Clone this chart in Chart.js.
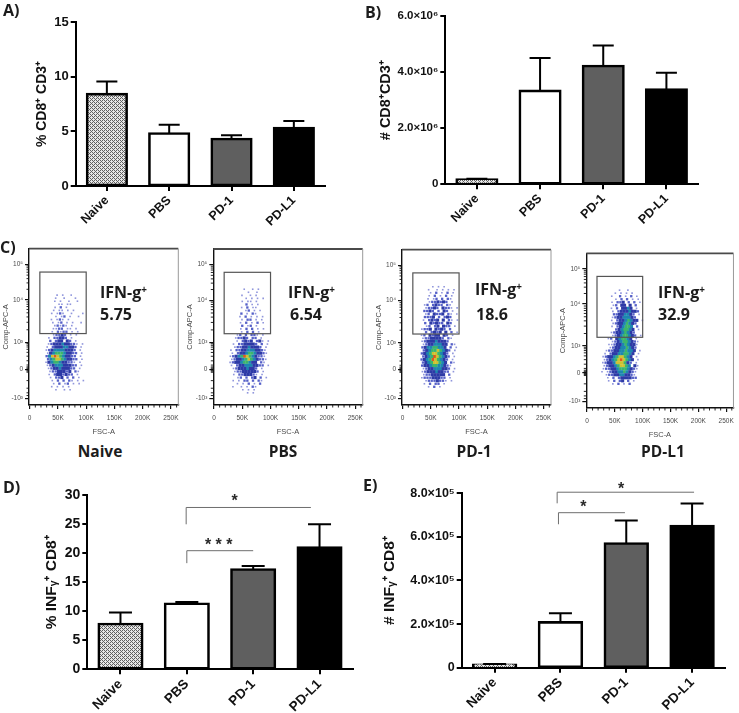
<!DOCTYPE html>
<html><head><meta charset="utf-8">
<script src="https://cdn.jsdelivr.net/npm/chart.js@4"></script>
<style>
html,body{margin:0;padding:0;background:#fff}
#fig{position:relative;width:739px;height:713px;overflow:hidden;background:#fff;filter:blur(0.35px)}
canvas{position:absolute;display:block}
.t{position:absolute;font-family:"Open Sans",sans-serif;font-weight:700;color:#1c1c1c;white-space:nowrap;line-height:1;transform:translateY(-50%)}
.t sup{font-size:.62em;line-height:0;vertical-align:.55em}
.c{transform:translate(-50%,-50%)}
</style></head><body><div id="fig"></div>
<script>
/* ---------- data ---------- */
const categories = ['Naive','PBS','PD-1','PD-L1'];

const aValues = [8.4,4.8,4.3,5.3];
const aUpper  = [9.55,5.6,4.65,5.95];
const aTicks  = [0,5,10,15];
const aTickLabels = ['0','5','10','15'];

const bValues = [0.17e6,3.33e6,4.22e6,3.38e6];
const bUpper  = [0.2e6,4.5e6,4.95e6,3.98e6];
const bTicks  = [0,2e6,4e6,6e6];
const bTickLabels = ['0','2.0×10⁶','4.0×10⁶','6.0×10⁶'];

const dValues = [7.8,11.3,17.2,21];
const dUpper  = [9.8,11.6,17.8,25];
const dTicks  = [0,5,10,15,20,25,30];
const dTickLabels = ['0','5','10','15','20','25','30'];
const dBrackets = [[0.99,2.87,27.9,25.0,1.72,29.5,'*'],[1.0,2.0,20.45,18.3,1.48,21.8,'* * *']];

const eValues = [0.13e5,2.08e5,5.7e5,6.5e5];
const eUpper  = [0.17e5,2.5e5,6.75e5,7.53e5];
const eTicks  = [0,2e5,4e5,6e5,8e5];
const eTickLabels = ['0','2.0×10⁵','4.0×10⁵','6.0×10⁵','8.0×10⁵'];
const eBrackets = [[0.95,3.03,8.05e5,7.54e5,1.92,8.3e5,'*'],[0.97,1.98,7.11e5,6.58e5,1.35,7.46e5,'*']];

/* flow plots: FSC-A in K, Comp-APC-A in display channels */
const fscTicks = [0,50,100,150,200,250];
const fscTickLabels = ['0','50K','100K','150K','200K','250K'];
const fscMinor = [10,20,30,40,60,70,80,90,110,120,130,140,160,170,180,190,210,220,230,240,260];
const apcTicks = [44,233,410,688,922];
const apcTickLabels = ['-10³','0','10³','10⁴','10⁵'];
const apcMinor = [62,80,110,160,215,222,228,237,243,250,262,290,320,345,365,380,392,402,493,542,577,604,626,645,660,675,758,800,828,851,870,886,899,911];
const gateBox = [18,100,468,871];
const flowPercents = ['5.75','6.54','18.6','32.9'];
const rowShift = [0,2.5,1,3.5,1.5,4,0.5,3];

/* density class per cell, each row 20 channels lower, each column 5K wider */
const naiveTop = 720;
const naiveRows = [
"      1 1  1    ",
"     1  1   1   ",
"     1 1  1  1  ",
"      11 11     ",
"     1 2 1      ",
"    1 11 1 1    ",
"    1 121  1   1",
"     1 12 1  1  ",
"    1 121 1     ",
"    1 12 1 1  1 ",
"     12121 1    ",
"    1122 11 1   ",
"    1 2122 1 1  ",
"    12232 1 1   ",
"   1 22332 1    ",
"   2 233 32 1   ",
"   12333433221 1",
"  1 233344332 1 ",
"  12344443332 1 ",
"  13455543322 1 ",
"  24676543322 1 ",
"  24566543322 1 ",
"  13455433221 1 ",
"  12344433322 1 ",
"   1233433322 1 ",
"   12233323 21  ",
"   1 2332322 1  ",
"   1 223 2 2 1  ",
"    1 2 2 21 1 1",
"    1 2 12 1 1  ",
"    1 1 1 1     ",
"     1  1 1     "];
const pbsTop = 760;
const pbsRows = [
"       1  1 1   ",
"        1  1    ",
"      1  1 1    ",
"       1 1 1 1  ",
"      1 11 1    ",
"       2 1 1    ",
"      1 2 11    ",
"       12 1 1   ",
"      2 1 21    ",
"     1 2 1 1 1  ",
"      1 22 1 1  ",
"     1 2 1 2 1  ",
"      2 12 1    ",
"     1 2 2 1 1  ",
"      1 2 2 1   ",
"    12 2 221 1  ",
"    12232 22 1  ",
"    1 2323 231 1",
"   1 2233332 2 1",
"   1223343332 1 ",
"  1 22334443321 ",
"  1 23345543321 ",
"  1234576543221 ",
"  1233456543221 ",
"  1233455433 21 ",
"  1 2334443322 1",
"   123334332 1  ",
"   122333332 1  ",
"   1 2233321 1  ",
"    12 2 23 2 1 ",
"   1 1 22 2 21  ",
"    1 1 2 1 2   ",
"   1  1 1 21    ",
"      1 1 1     ",
"        1 1     "];
const pd1Top = 780;
const pd1Rows = [
"       1 1 1    ",
"     1  1 1 1 1 ",
"      1 2 1 2 1 ",
"     1 2 1 2 1  ",
"     1 12 2 21  ",
"     1223232 1  ",
"    12 2322 21  ",
"    12232 3221 1",
"    2232 2 32 1 ",
"    12 3223 21 1",
"    2223 2 232  ",
"   1 2323 3 21 1",
"    2 32322 32  ",
"    12 23 322 1 ",
"   1223 3232 2  ",
"    2 2323 3 2 1",
"   12 3233 32 1 ",
"   12233332 21  ",
"   1233343332   ",
"   123344433 21 ",
"   234455443 2 1",
"   2345565432 1 ",
"   2345665432 1 ",
"   2345765432 1 ",
"   2345765432 1 ",
"   234566543 21 ",
"   23345544321  ",
"   1233444332 1 ",
"   1233343322 1 ",
"   12233333 2   ",
"   122233322 1  ",
"    12223221 1  ",
"    1 2 22 1    ",
"     1 2 1      "];
const pdl1Top = 780;
const pdl1Rows = [
"        1  1    ",
"      1 1 1 1   ",
"     1  2 1 2 1 ",
"      1 2 2 1 1 ",
"     1 223 2 2 1",
"     12 33 3 2  ",
"     1 2 3343 1 ",
"     1 23334332 ",
"      22334432 1",
"     123344432  ",
"     1 23345433 1",
"     123345432  ",
"     1 234554 2 ",
"      2345543 1 ",
"     123345432  ",
"     123455432 1",
"    12 345543 1 ",
"     1234554321 ",
"    11233454331 ",
"    1233445432  ",
"   12233445443 1",
"  1 233445543 1 ",
"  12334566543 1 ",
"  12345676543 1 ",
"  12334666532 1 ",
"  1233456654 31 ",
"  1223345554321 ",
" 1 12334454321  ",
"   12233443321  ",
"   1 2 2333322  ",
"    1 2 23 2 1  ",
"     1 2 1 2    "];

/* ---------- styling and layout ---------- */
const ARIAL = '"Liberation Sans",Arial,sans-serif';
const fig = document.getElementById('fig');
const densityColors = ['#9096dc','#5560c8','#2d3aa6','#1d86b0','#3cb56c','#cfc232','#e2571f'];
const densitySizes  = [1.15,1.65,2.2,2.2,2.2,2.2,2.2];

function stipple(){
  const p=document.createElement('canvas');p.width=4;p.height=4;
  const c=p.getContext('2d');c.fillStyle='#e6e6e6';c.fillRect(0,0,4,4);
  c.fillStyle='#606060';
  [[0,0],[1,1],[2,0],[2,2],[3,3],[0,2]].forEach(q=>c.fillRect(q[0],q[1],1,1));
  return c.createPattern(p,'repeat');
}
function addCanvas(l,t,w,h){
  const c=document.createElement('canvas');
  c.width=w;c.height=h;c.style.left=l+'px';c.style.top=t+'px';c.style.width=w+'px';c.style.height=h+'px';
  fig.appendChild(c);return c;
}
function addText(html,x,y,size,center){
  const d=document.createElement('div');d.className='t'+(center?' c':'');
  d.innerHTML=html;d.style.left=x+'px';d.style.top=y+'px';d.style.fontSize=size+'px';fig.appendChild(d);
}

function barPanel(o){
  const extras={id:'extras',afterDatasetsDraw(ch){
    const {ctx,scales:{x,y}}=ch;ctx.save();
    ctx.strokeStyle='#000';ctx.lineWidth=2;
    o.upper.forEach((u,i)=>{
      const px=x.getPixelForValue(i),t=y.getPixelForValue(u),b=y.getPixelForValue(o.values[i]);
      ctx.beginPath();ctx.moveTo(px,b);ctx.lineTo(px,t);
      ctx.moveTo(px-o.cap,t);ctx.lineTo(px+o.cap,t);ctx.stroke();
    });
    (o.brackets||[]).forEach(k=>{
      const x0=x.getPixelForValue(k[0]),x1=x.getPixelForValue(k[1]),yt=y.getPixelForValue(k[2]),yb=y.getPixelForValue(k[3]);
      ctx.strokeStyle='#6e6e6e';ctx.lineWidth=1;
      ctx.beginPath();ctx.moveTo(x0,yb);ctx.lineTo(x0,yt);ctx.lineTo(x1,yt);ctx.stroke();
      ctx.fillStyle='#2a2a2a';ctx.font='700 16px '+ARIAL;ctx.textAlign='center';ctx.textBaseline='middle';
      ctx.fillText(k[6],x.getPixelForValue(k[4]),y.getPixelForValue(k[5])+3);
    });
    ctx.restore();
  }};
  new Chart(addCanvas(o.l,o.t,o.w,o.h),{
    type:'bar',
    data:{labels:categories,datasets:[{data:o.values,
      backgroundColor:[stipple(),'#ffffff','#5f5f5f','#000000'],
      borderColor:'#000',borderWidth:2.6,borderSkipped:false,inflateAmount:1.3,
      barPercentage:o.barPct,categoryPercentage:1}]},
    plugins:[extras],
    options:{responsive:false,animation:false,
      layout:{padding:{left:0,top:o.py0,right:o.w-o.px1,bottom:0}},
      plugins:{legend:{display:false},tooltip:{enabled:false}},
      scales:{
        x:{offset:true,afterFit:s=>{s.height=o.h-o.py1;},
          grid:{offset:false,drawOnChartArea:false,color:'#000',lineWidth:2,tickLength:5},
          border:{color:'#000',width:2},
          ticks:{color:'#111',font:{family:ARIAL,weight:'700',size:o.catSize},maxRotation:45,minRotation:45,padding:2,autoSkip:false}},
        y:{min:0,max:o.ticks[o.ticks.length-1],
          afterFit:s=>{s.width=o.px0;},
          afterBuildTicks:s=>{s.ticks=o.ticks.map(v=>({value:v}));},
          grid:{drawOnChartArea:false,color:'#000',lineWidth:2,tickLength:5},
          border:{color:'#000',width:2},
          ticks:{color:'#111',font:{family:ARIAL,weight:'700',size:o.tickSize},padding:2,autoSkip:false,
            callback:(v,i)=>o.tickLabels[i]},
          title:{display:true,text:o.title,color:'#111',font:{family:ARIAL,weight:'700',size:o.titleSize},
            padding:{top:o.titleX-o.titleSize*0.6,bottom:0}}}
      }}
  });
}

function rowsToDatasets(rows,top){
  return densityColors.map((color,k)=>{
    const pts=[];
    rows.forEach((r,j)=>{[...r].forEach((ch,i)=>{ if(ch===String(k+1)) pts.push({x:18.5+i*5+rowShift[j%rowShift.length],y:top-j*20}); });});
    return {data:pts,pointStyle:'rect',pointRadius:densitySizes[k],pointBackgroundColor:color,pointBorderWidth:0,showLine:false};
  });
}

function flowPanel(o){
  const deco={id:'deco',
    beforeDatasetsDraw(ch){ch.ctx.save();ch.ctx.filter='blur(0.55px)';},
    afterDatasetsDraw(ch){
      const {ctx,chartArea:a,scales:{x,y}}=ch;ctx.restore();ctx.save();
      ctx.strokeStyle='#555';ctx.lineWidth=1.2;
      const gx0=x.getPixelForValue(gateBox[0]),gx1=x.getPixelForValue(gateBox[1]);
      const gy0=y.getPixelForValue(gateBox[2]),gy1=y.getPixelForValue(gateBox[3]);
      ctx.strokeRect(gx0,gy1,gx1-gx0,gy0-gy1);
      ctx.strokeStyle='#4a4a4a';ctx.lineWidth=1.8;ctx.beginPath();ctx.moveTo(a.left,a.top);ctx.lineTo(a.right,a.top);ctx.stroke();
      ctx.strokeStyle='#999';ctx.lineWidth=1;ctx.beginPath();ctx.moveTo(a.right,a.top);ctx.lineTo(a.right,a.bottom);ctx.stroke();
      ctx.strokeStyle='#111';ctx.lineWidth=0.9;ctx.beginPath();
      fscMinor.forEach(v=>{const p=x.getPixelForValue(v);ctx.moveTo(p,a.bottom);ctx.lineTo(p,a.bottom+2.5);});
      apcMinor.forEach(v=>{const p=y.getPixelForValue(v);ctx.moveTo(a.left,p);ctx.lineTo(a.left-2.5,p);});
      ctx.stroke();ctx.restore();
    }};
  const tick={color:'#4a4a4a',font:{family:ARIAL,size:6.5},autoSkip:false,maxRotation:0};
  new Chart(addCanvas(o.l,o.t,o.w,o.h),{
    type:'scatter',
    data:{datasets:rowsToDatasets(o.rows,o.top)},
    plugins:[deco],
    options:{responsive:false,animation:false,
      layout:{padding:{left:0,top:o.py0,right:o.w-o.px1,bottom:0}},
      plugins:{legend:{display:false},tooltip:{enabled:false}},
      scales:{
        x:{type:'linear',min:-1.2,max:263,afterFit:s=>{s.height=31;},
          afterBuildTicks:s=>{s.ticks=fscTicks.map(v=>({value:v}));},
          grid:{drawOnChartArea:false,color:'#111',lineWidth:1.2,tickLength:4},
          border:{color:'#111',width:1.4},
          ticks:{...tick,padding:5,callback:(v,i)=>fscTickLabels[i]},
          title:{display:true,text:'FSC-A',color:'#4a4a4a',font:{family:ARIAL,size:7.5},padding:0}},
        y:{min:0,max:1024,afterFit:s=>{s.width=o.px0;},
          afterBuildTicks:s=>{s.ticks=apcTicks.map(v=>({value:v}));},
          grid:{drawOnChartArea:false,color:'#111',lineWidth:1.2,tickLength:4},
          border:{color:'#111',width:1.4},
          ticks:{...tick,padding:2,callback:(v,i)=>apcTickLabels[i]},
          title:{display:true,text:'Comp-APC-A',color:'#4a4a4a',font:{family:ARIAL,size:7.5},padding:{top:1,bottom:0}}}
      }}
  });
}

barPanel({l:0,t:0,w:370,h:235,px0:75.7,px1:325,py0:22,py1:186,values:aValues,upper:aUpper,ticks:aTicks,tickLabels:aTickLabels,
  title:'% CD8⁺ CD3⁺',titleX:42,titleSize:14,cap:10.5,barPct:.635,catSize:12.5,tickSize:13});
barPanel({l:370,t:0,w:369,h:235,px0:75.3,px1:328,py0:16,py1:184.3,values:bValues,upper:bUpper,ticks:bTicks,tickLabels:bTickLabels,
  title:'# CD8⁺CD3⁺',titleX:15.7,titleSize:14.5,cap:10.5,barPct:.64,catSize:12.5,tickSize:11.5});
barPanel({l:0,t:470,w:370,h:243,px0:87.3,px1:352.7,py0:25.3,py1:199.3,values:dValues,upper:dUpper,ticks:dTicks,tickLabels:dTickLabels,brackets:dBrackets,
  title:'% INFᵧ⁺ CD8⁺',titleX:51.7,titleSize:15.5,cap:11.5,barPct:.655,catSize:13.5,tickSize:14});
barPanel({l:370,t:470,w:369,h:243,px0:91.7,px1:355,py0:23.3,py1:197.7,values:eValues,upper:eUpper,ticks:eTicks,tickLabels:eTickLabels,brackets:eBrackets,
  title:'# INFᵧ⁺ CD8⁺',titleX:20,titleSize:15.5,cap:11.5,barPct:.65,catSize:13.5,tickSize:12.5});

flowPanel({l:0,t:240,w:186,h:196,px0:29,px1:178.3,py0:8.7,rows:naiveRows,top:naiveTop});
flowPanel({l:184,t:240,w:186,h:196,px0:29.3,px1:178.7,py0:9,rows:pbsRows,top:pbsTop});
flowPanel({l:373,t:240,w:186,h:196,px0:29,px1:178,py0:9.7,rows:pd1Rows,top:pd1Top});
flowPanel({l:557,t:243,w:182,h:196,px0:29.3,px1:179.7,py0:10.3,rows:pdl1Rows,top:pdl1Top});

addText('A)',3,10,16);addText('B)',365,12,16);addText('C)',0,247,16);addText('D)',3,487,16);addText('E)',363,485,16);

const ifn='IFN-g<sup>+</sup>';
[[100,292,100,314,flowPercents[0]],[288,292,290,314,flowPercents[1]],[475,289,476,314,flowPercents[2]],[658,292,658,314,flowPercents[3]]]
 .forEach(r=>{addText(ifn,r[0],r[1],16);addText(r[4],r[2],r[3],16);});
[[100,452],[283,452],[474,452],[663,452]].forEach((p,i)=>addText(categories[i],p[0],p[1],15.5,true));
</script></body></html>
